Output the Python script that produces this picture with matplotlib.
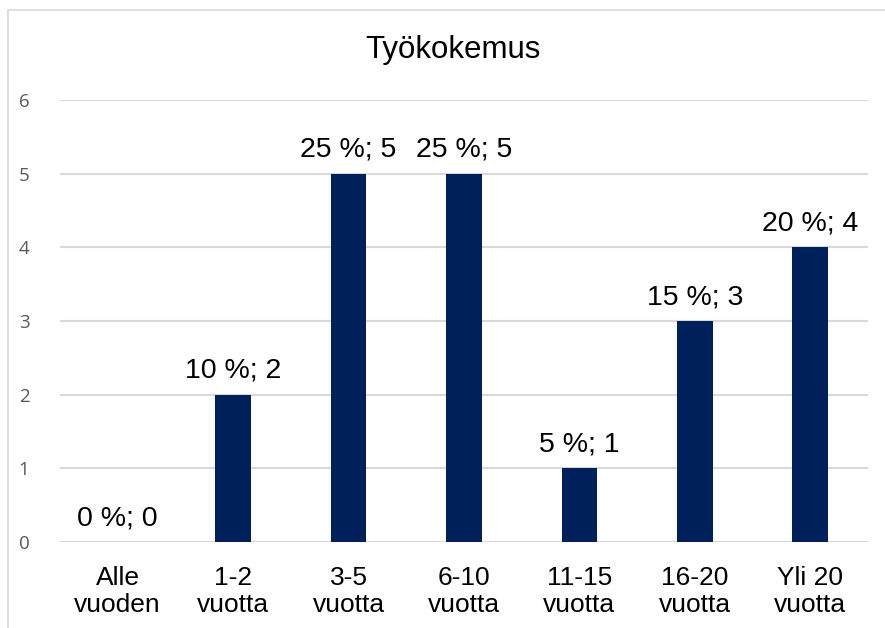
import matplotlib.pyplot as plt
from matplotlib.patches import Rectangle

# Data
categories = ['Alle\nvuoden', '1-2\nvuotta', '3-5\nvuotta', '6-10\nvuotta',
              '11-15\nvuotta', '16-20\nvuotta', 'Yli 20\nvuotta']
counts = [0, 2, 5, 5, 1, 3, 4]
percents = [0, 10, 25, 25, 5, 15, 20]

W, H = 885, 628
fig = plt.figure(figsize=(W / 100, H / 100), dpi=100)

# chart border (cropped at right/bottom)
fig.patches.append(Rectangle((8 / W, -0.1), 1.2, 1 - 10 / H + 0.1,
                             transform=fig.transFigure, fill=False,
                             edgecolor='#d9d9d9', linewidth=1.2))

ax = fig.add_axes([60 / W, 1 - 542 / H, 808 / W, 442 / H])
x = range(len(categories))
ax.bar(x, counts, width=0.31, color='#00205b', zorder=3)

ax.set_ylim(0, 6)
ax.set_xlim(-0.5, len(categories) - 0.5)
ax.set_yticks(range(7))
ax.grid(axis='y', color='#d9d9d9', linewidth=1.5, zorder=0)
for s in ax.spines.values():
    s.set_visible(False)
ax.tick_params(axis='y', length=0, pad=22, labelsize=13.5, labelcolor='#595959')
ax.tick_params(axis='x', length=0, pad=17)
for lbl in ax.get_yticklabels():
    lbl.set_fontfamily('Open Sans')
ax.set_xticks(list(x))
ax.set_xticklabels(categories, fontsize=19, fontfamily='Liberation Sans',
                   linespacing=1.2)

for i, (c, p) in enumerate(zip(counts, percents)):
    ax.text(i, c + 0.23, f'{p} %; {c}', ha='center', va='baseline',
            fontsize=20.5, fontfamily='Liberation Sans')

fig.text(453 / W, 1 - 50 / H, 'Työkokemus', ha='center', va='center',
         fontsize=22.5, fontfamily='Liberation Sans')

fig.savefig('out.png', dpi=100)
